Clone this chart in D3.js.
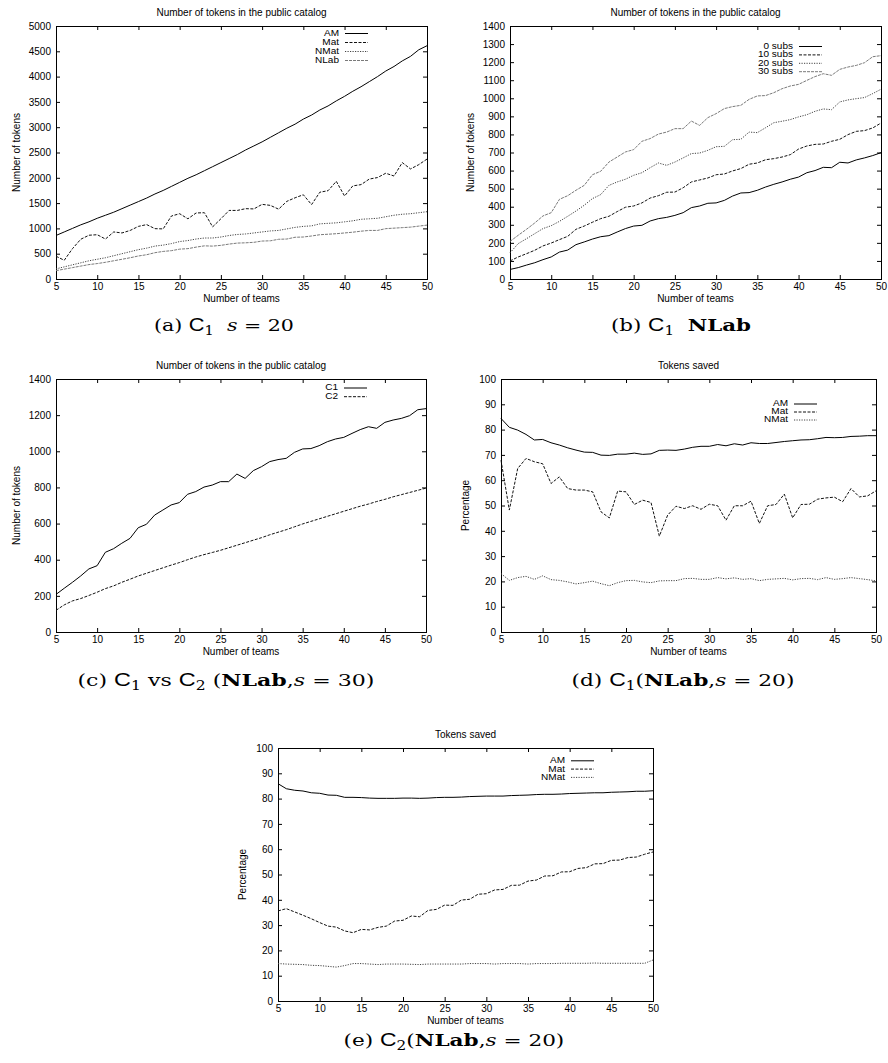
<!DOCTYPE html>
<html>
<head>
<meta charset="utf-8">
<script src="https://cdn.jsdelivr.net/npm/d3@7"></script>
<style>
  body { margin: 0; background: #fff; }
  svg text { font-family: "Liberation Sans", Arial, sans-serif; }
</style>
</head>
<body>
<svg id="fig" width="888" height="1063"></svg>
<script>
// x values: number of teams
const teams = [5,6,7,8,9,10,11,12,13,14,15,16,17,18,19,20,21,22,23,24,25,26,27,28,29,
               30,31,32,33,34,35,36,37,38,39,40,41,42,43,44,45,46,47,48,49,50];

// tick labels
const teamTicks = [5,10,15,20,25,30,35,40,45,50];
const tokenTicksA = [0,500,1000,1500,2000,2500,3000,3500,4000,4500,5000];
const tokenTicksB = [0,100,200,300,400,500,600,700,800,900,1000,1100,1200,1300,1400];
const tokenTicksC = [0,200,400,600,800,1000,1200,1400];
const pctTicks = [0,10,20,30,40,50,60,70,80,90,100];

// (a) C1, s = 20
const aAM = [860,930,1000,1070,1130,1200,1260,1320,1390,1460,1530,1600,1680,1750,1830,1910,
             1990,2060,2140,2220,2300,2380,2460,2550,2630,2710,2800,2890,2980,3060,3160,3240,
             3340,3420,3520,3610,3710,3800,3900,4000,4110,4200,4310,4400,4530,4610];
const aMat = [450,370,600,785,865,875,790,930,910,960,1040,1075,995,990,1245,1290,1190,1305,
              1310,1030,1190,1355,1355,1390,1385,1475,1455,1380,1535,1605,1665,1470,1715,1745,
              1930,1640,1840,1865,1975,2005,2090,2035,2300,2175,2260,2370];
const aNMat = [200,240,280,320,360,390,420,460,500,540,580,610,650,670,700,740,760,790,810,810,
               830,860,880,890,910,930,950,960,990,1020,1040,1050,1090,1100,1110,1130,1150,1180,
               1190,1200,1230,1260,1280,1290,1310,1330];
const aNLab = [165,195,225,255,285,305,330,360,390,420,455,480,520,545,560,590,600,630,655,650,
               665,690,710,715,725,750,755,785,790,825,830,850,875,885,895,910,925,945,960,960,
               995,1005,1015,1025,1045,1065];

// (b) C1 NLab, by number of subs
const bSub0 = [53,63,77,90,107,122,149,160,190,205,221,234,240,260,279,293,297,321,334,341,
               352,367,395,404,419,421,435,459,476,478,491,509,524,537,552,564,588,600,618,616,
               646,642,659,670,683,699];
const bSub10 = [100,122,140,159,183,199,218,236,275,293,314,334,347,373,397,404,421,448,461,480,
                481,505,537,548,559,577,581,598,611,635,642,660,666,675,688,719,736,745,747,762,
                773,799,817,821,836,863];
const bSub20 = [145,196,223,251,279,295,319,347,376,408,445,467,518,537,552,574,588,616,642,629,
                647,670,694,697,712,732,734,771,773,813,810,837,865,873,882,897,909,928,941,937,
                980,991,998,1004,1026,1050];
const bSub30 = [208,242,275,310,349,367,441,461,491,518,577,596,647,675,703,716,762,777,802,813,
                832,832,874,850,893,915,943,954,961,994,1013,1015,1031,1053,1068,1077,1099,1120,
                1136,1127,1160,1173,1182,1197,1230,1236];

// (c) C1 vs C2 (NLab, s = 30) -- C1 is the 30 subs run above
const cC2 = [120,150,172,185,202,220,240,255,275,292,310,325,340,355,370,384,400,415,428,440,
             452,466,480,494,508,522,538,552,566,582,598,612,626,640,654,668,682,696,708,722,
             734,748,760,772,784,796];

// (d) C1 (NLab, s = 20), tokens saved %
const dAM = [84.4,80.9,79.8,78.1,75.9,76.1,74.8,73.9,72.8,71.9,71.1,71.0,69.9,69.8,70.3,70.3,
             70.7,70.2,70.4,71.8,71.9,71.8,72.3,73.0,73.4,73.4,74.1,73.6,74.4,73.9,74.8,74.5,
             74.5,74.9,75.3,75.6,75.9,76.0,76.4,76.9,76.8,76.9,77.3,77.4,77.6,77.6];
const dMat = [67.9,48.2,64.6,68.6,67.3,66.5,58.7,61.3,56.7,56.1,56.1,55.4,47.5,45.1,55.7,55.4,
              50.4,52.1,51.2,37.9,46.2,49.7,48.8,49.9,48.5,50.5,49.9,44.2,49.9,49.9,51.7,42.9,
              49.9,50.4,54.5,45.1,50.4,50.5,52.5,53.0,53.3,51.5,56.7,53.4,53.8,55.8];
const dNMat = [23.1,20.4,21.5,22.0,20.8,22.2,20.7,20.4,19.8,19.0,19.5,20.1,19.1,18.3,19.5,20.3,
               20.4,19.8,19.5,20.2,20.3,20.3,21.1,21.2,20.8,20.8,21.5,21.0,21.4,20.8,21.1,20.3,
               20.8,21.0,21.2,20.6,21.1,21.2,20.7,21.5,20.8,21.1,21.5,21.1,20.7,20.2];

// (e) C2 (NLab, s = 20), tokens saved %
const eAM = [85.9,83.9,83.3,83.0,82.3,82.1,81.4,81.3,80.5,80.5,80.4,80.2,80.1,80.1,80.1,80.2,
             80.2,80.1,80.2,80.4,80.5,80.5,80.6,80.8,80.9,81.0,81.0,81.0,81.2,81.3,81.4,81.6,
             81.7,81.7,81.8,82.0,82.1,82.2,82.3,82.3,82.5,82.6,82.7,82.9,82.9,83.1];
const eMat = [35.6,36.5,35.2,33.9,32.5,31.0,29.6,29.2,27.7,27.0,28.3,28.1,29.1,29.6,31.6,31.9,
              33.6,33.3,35.8,36.2,37.9,37.8,39.9,40.2,42.2,42.4,43.9,44.1,45.7,45.8,47.4,47.8,
              49.4,49.5,51.0,51.1,52.4,52.7,54.2,54.3,55.6,55.7,56.7,56.9,58.0,58.9];
const eNMat = [14.8,14.6,14.5,14.4,14.1,14.0,13.7,13.4,14.0,14.8,14.8,14.6,14.4,14.6,14.6,14.6,
               14.5,14.4,14.6,14.6,14.6,14.6,14.6,14.8,14.8,14.8,14.6,14.8,14.8,14.8,14.6,14.8,
               14.8,14.8,14.9,14.9,14.9,14.9,15.0,14.9,14.9,14.9,14.9,14.9,14.9,16.2];

// gnuplot-ish line types
const lt = {
    solid:  { color: '#000', dash: null },
    dashed: { color: '#111', dash: '3,1.5' },
    dotted: { color: '#444', dash: '1.2,1.3' },
    grey:   { color: '#7a7a7a', dash: '3,1' }
};

const svg = d3.select('#fig');

const panels = [
    { left: 56, top: 26, right: 427, bottom: 279, yTicks: tokenTicksA,
      title: 'Number of tokens in the public catalog', ylabel: 'Number of tokens', ylabelX: 16,
      legend: { dy: 7, step: 9 },
      series: [ { name: 'AM', values: aAM, lt: lt.solid },
                { name: 'Mat', values: aMat, lt: lt.dashed },
                { name: 'NMat', values: aNMat, lt: lt.dotted },
                { name: 'NLab', values: aNLab, lt: lt.grey } ] },
    { left: 510, top: 26, right: 881, bottom: 279, yTicks: tokenTicksB,
      title: 'Number of tokens in the public catalog', ylabel: 'Number of tokens', ylabelX: 470,
      legend: { dy: 20, step: 8.4 },
      series: [ { name: '0 subs', values: bSub0, lt: lt.solid },
                { name: '10 subs', values: bSub10, lt: lt.dashed },
                { name: '20 subs', values: bSub20, lt: lt.dotted },
                { name: '30 subs', values: bSub30, lt: lt.grey } ] },
    { left: 56, top: 379, right: 426, bottom: 632, yTicks: tokenTicksC,
      title: 'Number of tokens in the public catalog', ylabel: 'Number of tokens', ylabelX: 16,
      legend: { dy: 8.5, step: 8.7 },
      series: [ { name: 'C1', values: bSub30, lt: lt.solid },
                { name: 'C2', values: cC2, lt: lt.dashed } ] },
    { left: 501, top: 379, right: 876, bottom: 632, yTicks: pctTicks,
      title: 'Tokens saved', ylabel: 'Percentage', ylabelX: 465,
      legend: { dy: 24.5, step: 8 },
      series: [ { name: 'AM', values: dAM, lt: lt.solid },
                { name: 'Mat', values: dMat, lt: lt.dashed },
                { name: 'NMat', values: dNMat, lt: lt.dotted } ] },
    { left: 278, top: 748, right: 653, bottom: 1001, yTicks: pctTicks,
      title: 'Tokens saved', ylabel: 'Percentage', ylabelX: 242,
      legend: { dy: 12.3, step: 8.3 },
      series: [ { name: 'AM', values: eAM, lt: lt.solid },
                { name: 'Mat', values: eMat, lt: lt.dashed },
                { name: 'NMat', values: eNMat, lt: lt.dotted } ] }
];

panels.forEach(drawPanel);

function drawPanel(p) {
    let x = d3.scaleLinear().domain([5, 50]).range([p.left, p.right]);
    let y = d3.scaleLinear().domain([0, d3.max(p.yTicks)]).range([p.bottom, p.top]);
    let g = svg.append('g');
    let fmt = d3.format('d');

    // axes, ticks pointing inward and mirrored on top/right
    g.append('g').attr('transform', `translate(0,${p.bottom})`)
        .call(d3.axisBottom(x).tickValues(teamTicks).tickFormat(fmt)
            .tickSizeInner(-4).tickSizeOuter(0).tickPadding(4));
    g.append('g').attr('transform', `translate(${p.left},0)`)
        .call(d3.axisLeft(y).tickValues(p.yTicks).tickFormat(fmt)
            .tickSizeInner(-4).tickSizeOuter(0).tickPadding(5));
    g.append('g').attr('transform', `translate(0,${p.top})`)
        .call(d3.axisTop(x).tickValues(teamTicks).tickSizeInner(-4).tickSizeOuter(0).tickFormat(''));
    g.append('g').attr('transform', `translate(${p.right},0)`)
        .call(d3.axisRight(y).tickValues(p.yTicks).tickSizeInner(-4).tickSizeOuter(0).tickFormat(''));
    g.selectAll('.domain').remove();
    g.selectAll('.tick text').attr('fill', '#000').attr('font-size', 10);

    g.append('rect')
        .attr('x', p.left + 0.5).attr('y', p.top + 0.5)
        .attr('width', p.right - p.left).attr('height', p.bottom - p.top)
        .attr('fill', 'none').attr('stroke', '#000');

    // titles
    g.append('text')
        .attr('x', (p.left + p.right) / 2).attr('y', p.top - 14)
        .attr('dy', '0.35em').attr('text-anchor', 'middle').attr('font-size', 10)
        .text(p.title);
    g.append('text')
        .attr('x', (p.left + p.right) / 2).attr('y', p.bottom + 19)
        .attr('dy', '0.35em').attr('text-anchor', 'middle').attr('font-size', 10)
        .text('Number of teams');
    g.append('text')
        .attr('transform', `translate(${p.ylabelX},${(p.top + p.bottom) / 2}) rotate(-90)`)
        .attr('dy', '0.35em').attr('text-anchor', 'middle').attr('font-size', 10)
        .text(p.ylabel);

    // the curves
    let line = d3.line()
        .x((d, i) => x(teams[i]))
        .y(d => y(d));

    p.series.forEach(function(s, i) {
        g.append('path')
            .datum(s.values)
            .attr('d', line)
            .attr('fill', 'none')
            .attr('stroke', s.lt.color)
            .attr('stroke-width', 1)
            .attr('stroke-dasharray', s.lt.dash);

        // legend entry (top right, gnuplot style, text a bit squashed)
        let ly = p.top + p.legend.dy + i * p.legend.step;
        g.append('text')
            .attr('transform', `translate(${p.right - 88},${ly}) scale(1.18,1)`)
            .attr('dy', '0.35em').attr('text-anchor', 'end').attr('font-size', 8.5)
            .text(s.name);
        g.append('line')
            .attr('x1', p.right - 82).attr('x2', p.right - 59)
            .attr('y1', ly + 0.5).attr('y2', ly + 0.5)
            .attr('stroke', s.lt.color)
            .attr('stroke-dasharray', s.lt.dash);
    });
}

// sub-figure captions, LaTeX style
const captions = [
    { x: 224, y: 331, w: 140, parts: [ {t: '(a) '}, {t: 'C', sans: true}, {t: '1', sub: true},
        {t: '  '}, {t: 's', it: true}, {t: ' = 20'} ] },
    { x: 681, y: 331, w: 140, parts: [ {t: '(b) '}, {t: 'C', sans: true}, {t: '1', sub: true},
        {t: '  '}, {t: 'NLab', bold: true} ] },
    { x: 226, y: 686, w: 297, parts: [ {t: '(c) '}, {t: 'C', sans: true}, {t: '1', sub: true},
        {t: ' vs '}, {t: 'C', sans: true}, {t: '2', sub: true}, {t: ' ('}, {t: 'NLab', bold: true},
        {t: ','}, {t: 's', it: true}, {t: ' = 30)'} ] },
    { x: 683, y: 686, w: 223, parts: [ {t: '(d) '}, {t: 'C', sans: true}, {t: '1', sub: true},
        {t: '('}, {t: 'NLab', bold: true}, {t: ','}, {t: 's', it: true}, {t: ' = 20)'} ] },
    { x: 454, y: 1046, w: 221, parts: [ {t: '(e) '}, {t: 'C', sans: true}, {t: '2', sub: true},
        {t: '('}, {t: 'NLab', bold: true}, {t: ','}, {t: 's', it: true}, {t: ' = 20)'} ] }
];

captions.forEach(function(c) {
    let g = svg.append('g');
    let t = g.append('text')
        .style('font-family', '"DejaVu Serif", serif')
        .style('font-size', '17px')
        .style('white-space', 'pre')
        .attr('x', 0).attr('y', 0);
    let shift = 0;
    c.parts.forEach(function(p) {
        let s = t.append('tspan').text(p.t);
        if (p.sans) s.style('font-family', '"Liberation Sans", Arial, sans-serif').style('font-size', '18px');
        if (p.it) s.style('font-style', 'italic');
        if (p.bold) s.style('font-weight', 'bold');
        if (p.sub) {
            s.style('font-size', '12px').attr('dy', 4);
            shift = 4;
        } else if (shift) {
            s.attr('dy', -shift);
            shift = 0;
        }
    });
    // stretch to the width the caption has in the paper
    let w = t.node().getComputedTextLength();
    g.attr('transform', `translate(${c.x - c.w / 2},${c.y}) scale(${c.w / w},1)`);
});
</script>
</body>
</html>
